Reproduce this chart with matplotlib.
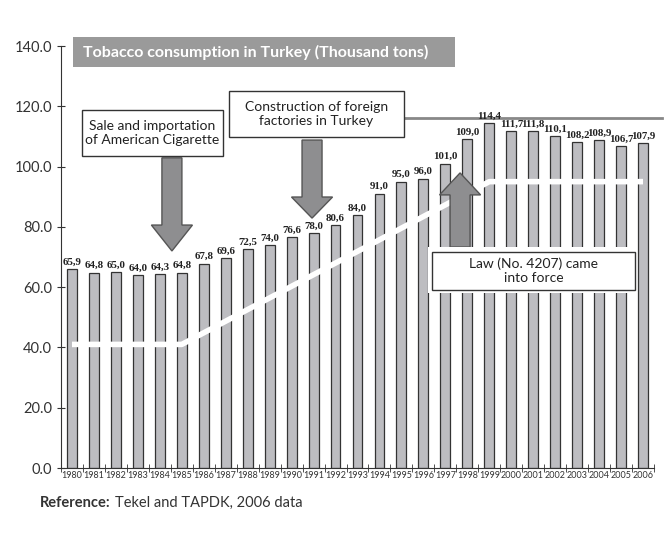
import matplotlib.pyplot as plt
import matplotlib.patches as mpatches
import numpy as np

# data
years = list(range(1980, 2007))
consumption = [65.9, 64.8, 65.0, 64.0, 64.3, 64.8, 67.8, 69.6, 72.5, 74.0,
               76.6, 78.0, 80.6, 84.0, 91.0, 95.0, 96.0, 101.0, 109.0, 114.4,
               111.7, 111.8, 110.1, 108.2, 108.9, 106.7, 107.9]
yticks = [0, 20, 40, 60, 80, 100, 120, 140]
# white trend line (year, value)
trend_years = [1980, 1985, 1999, 2006]
trend_vals = [41.0, 41.0, 95.0, 95.0]
ref_level = 116.1

plt.rcParams['font.family'] = ['Lato', 'DejaVu Sans']

fig = plt.figure(figsize=(6.68, 5.41), dpi=100)
ax = fig.add_axes([61/668, 73/541, (654-61)/668, (468-46)/541])

x = np.arange(len(years))
ax.bar(x, consumption, width=0.45, color='#bdbdc1', edgecolor='#333333', linewidth=0.9, zorder=2)

for i, v in enumerate(consumption):
    ax.text(i, v + 0.8, ('%.1f' % v).replace('.', ','), ha='center', va='bottom',
            fontsize=7.8, fontweight='bold', family='Liberation Serif', color='#222222', zorder=5)

# white trend line
tx = [years.index(yr) for yr in trend_years]
ax.plot(tx, trend_vals, color='white', lw=4, zorder=3, solid_capstyle='butt')

# gray reference line
ax.plot([15.16, 26.87], [ref_level, ref_level], color='#888888', lw=2, zorder=3, clip_on=False)

# arrows
def arrow(xc, y0, y1, hl):
    a = mpatches.FancyArrow(xc, y0, 0, y1 - y0, width=0.91, head_width=1.87, head_length=hl,
                            length_includes_head=True, facecolor='#8e8e90', edgecolor='#555555',
                            lw=1, zorder=6)
    ax.add_patch(a)

arrow(4.55, 102.9, 72.0, 8.6)
arrow(10.93, 108.8, 82.9, 7.0)
arrow(17.67, 73.3, 97.9, 7.3)

# boxes
def box(x0, x1, y0, y1, txt, fs=10):
    ax.add_patch(mpatches.Rectangle((x0, y0), x1 - x0, y1 - y0, facecolor='white',
                                    edgecolor='#333333', lw=1, zorder=7))
    ax.text((x0 + x1) / 2, (y0 + y1) / 2, txt, ha='center', va='center', fontsize=fs,
            color='#222222', zorder=8, linespacing=1.15)

box(0.46, 6.88, 103.5, 118.8, 'Sale and importation\nof American Cigarette')
box(7.15, 15.12, 109.8, 125.1, 'Construction of foreign\nfactories in Turkey')
ax.add_patch(mpatches.Rectangle((16.21, 58.1), 25.73 - 16.21, 73.3 - 58.1, facecolor='white',
                                edgecolor='none', zorder=6.5))
box(16.39, 25.64, 59.1, 71.7, 'Law (No. 4207) came\ninto force')

# title box
ax.add_patch(mpatches.Rectangle((0.05, 133.0), 17.44 - 0.05, 10.0, facecolor='#9a9a9a',
                                edgecolor='none', zorder=7, clip_on=False))
ax.text(0.5, 138.0, 'Tobacco consumption in Turkey (Thousand tons)', ha='left', va='center',
        fontsize=11.5, fontweight='bold', color='white', zorder=8, clip_on=False)

ax.set_xlim(-0.5, len(years) - 0.5)
ax.set_ylim(0, 140)
ax.set_yticks(yticks)
ax.set_yticklabels(['%.1f' % t for t in yticks], fontsize=10.5, color='#333333')
ax.set_xticks(x)
ax.set_xticklabels([str(yr) for yr in years], fontsize=6.5, color='#333333')
ax.tick_params(axis='x', which='major', length=0, pad=2)
ax.set_xticks(np.arange(-0.5, len(years), 1), minor=True)
ax.tick_params(axis='x', which='minor', length=6, direction='inout', color='#333333')
ax.tick_params(axis='y', length=6, direction='inout', color='#333333')
for s in ['top', 'right']:
    ax.spines[s].set_visible(False)
for s in ['left', 'bottom']:
    ax.spines[s].set_color('#333333')

t1 = fig.text(40/668, 1 - 503/541, 'Reference:', fontsize=10.5, fontweight='bold',
              color='#333333', va='center')
fig.canvas.draw()
bb = t1.get_window_extent()
fig.text((bb.x1 + 4) / 668, 1 - 503/541, 'Tekel and TAPDK, 2006 data', fontsize=10.5,
         color='#333333', va='center')

fig.savefig('out.png', dpi=100)
